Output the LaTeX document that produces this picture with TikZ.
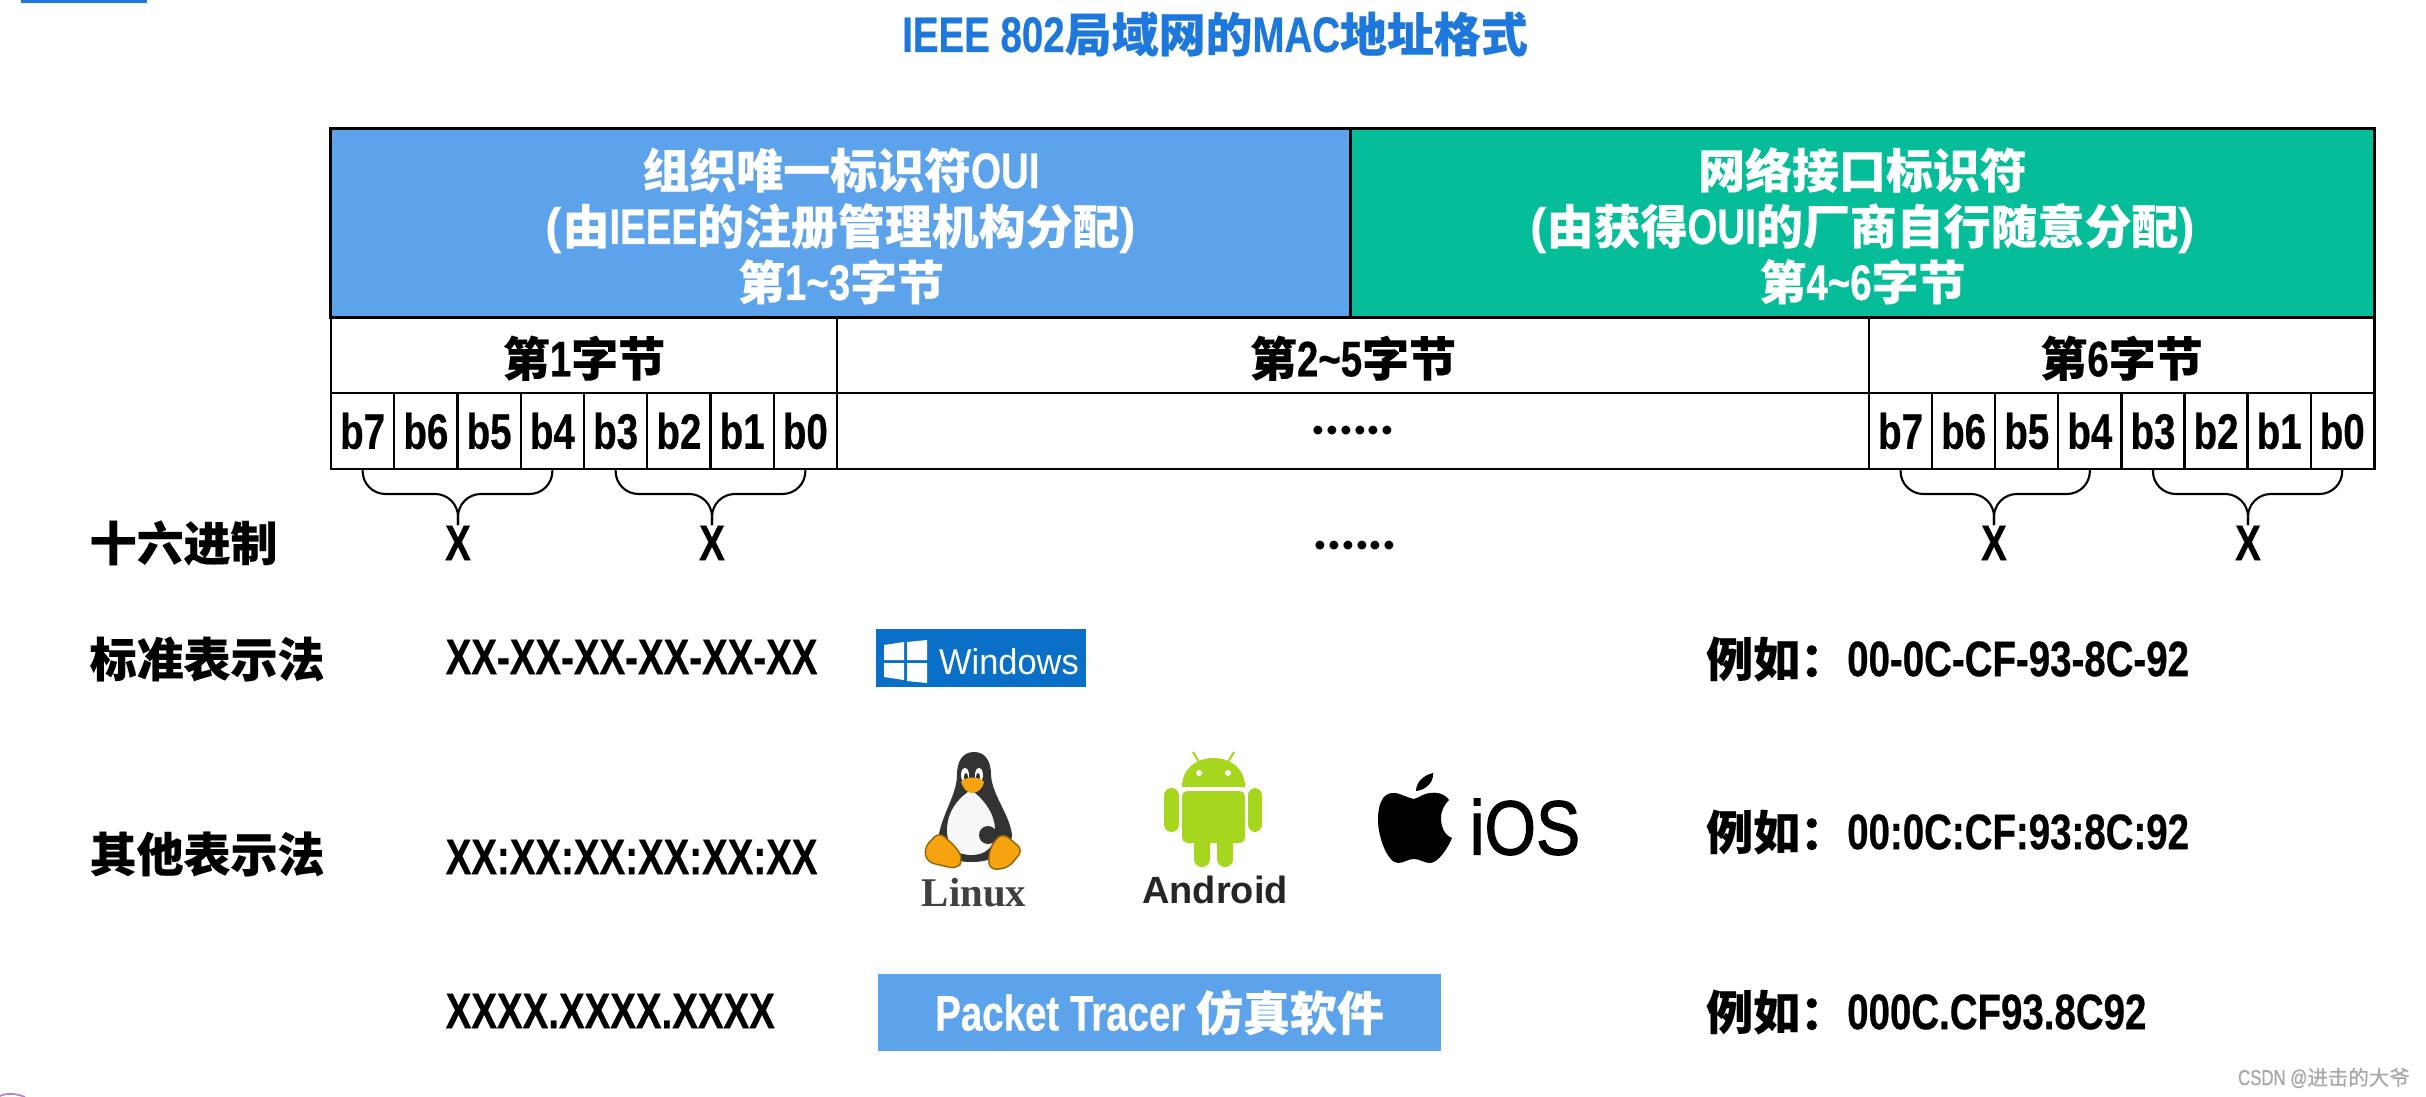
\documentclass[tikz,border=0pt]{standalone}
\usepackage{fontspec}
\setmainfont[FakeStretch=0.77, FakeBold=0.5]{Liberation Sans}
\newfontfamily\cjkfont[Scale=0.94, FakeBold=0.3]{Noto Sans CJK SC}
\newfontfamily\logofont{Liberation Sans}
\newfontfamily\iosfont[FakeBold=1.5]{Liberation Sans}
\newfontfamily\linuxfont{Liberation Serif}
\newfontfamily\dotfont{Lato}
\definecolor{ouiblue}{RGB}{92,163,235}
\definecolor{nicgreen}{RGB}{6,189,154}
\definecolor{titleblue}{RGB}{30,120,220}
\definecolor{winblue}{RGB}{10,111,198}
\definecolor{droidgreen}{RGB}{166,214,30}
\definecolor{tuxorange}{RGB}{245,163,15}
\newcommand{\zh}[1]{{\cjkfont #1}}

\begin{document}
\begin{tikzpicture}[x=0.01cm, y=-0.01cm,
    txt/.style={font=\fontsize{14.2}{15.9}\selectfont\bfseries, inner sep=0pt},
    head/.style={txt, draw, line width=0.85pt, text=white, align=center, minimum height=1.88cm, text height=45pt},
    byterow/.style={txt, draw, line width=0.6pt, minimum height=0.76cm},
    bytehead/.style={byterow, text height=13.4pt},
    bitcell/.style={byterow, minimum width=0.6325cm},
    curly/.style={line width=0.6pt, rounded corners=6.5pt},
    dotrow/.style={inner sep=0pt, anchor=base, font=\dotfont\fontsize{16.5}{20}\selectfont\bfseries},
    rowname/.style={txt, anchor=west},
    addr/.style={txt, anchor=west},
    logotext/.style={inner sep=0pt, font=\logofont\fontsize{10.2}{12}\selectfont}]
    \useasboundingbox (0, 0) rectangle (2426, 1097);

    \fill[titleblue] (21, 0) rectangle (147, 3);
    \node[txt, text=titleblue] (title) at (1215, 34) {IEEE 802\zh{局域网的}MAC\zh{地址格式}};

    \node[head, fill=ouiblue, minimum width=10.2cm] (oui) at (841, 223) {\zh{组织唯一标识符}OUI\\{\logofont (}\zh{由}IEEE\zh{的注册管理机构分配}{\logofont )}\\\zh{第}1\textasciitilde 3\zh{字节}};
    \node[head, fill=nicgreen, minimum width=10.23cm] (nic) at (1862.5, 223) {\zh{网络接口标识符}\\{\logofont (}\zh{由获得}OUI\zh{的厂商自行随意分配}{\logofont )}\\\zh{第}4\textasciitilde 6\zh{字节}};

    \node[bytehead, minimum width=5.06cm] (byte1) at (584, 355) {\zh{第}1\zh{字节}};
    \node[bytehead, minimum width=10.32cm] (byte25) at (1353, 355) {\zh{第}2\textasciitilde 5\zh{字节}};
    \node[bytehead, minimum width=5.05cm] (byte6) at (2121.5, 355) {\zh{第}6\zh{字节}};

    \foreach \b [count=\i from 0] in {7,6,5,4,3,2,1,0} {
        \node[bitcell] (l\b) at ({331+(\i+0.5)*63.25}, 431) {b\b};
        \node[bitcell] (r\b) at ({1869+(\i+0.5)*63.1}, 431) {b\b};
    }
    \node[dotrow] (dots1) at (1353, 435) {......};
    \draw[line width=0.85pt] (331, 393) -- (2374, 393);
    \draw[line width=0.85pt] (331, 469) -- (2374, 469) -- (2374, 129);

    \node[txt] (xa) at (458, 543) {X};
    \node[txt] (xb) at (712, 543) {X};
    \node[dotrow] (dots2) at (1355, 549) {......};
    \node[txt] (xc) at (1994, 543) {X};
    \node[txt] (xd) at (2248, 543) {X};
    \coordinate (ma) at (458, 494);
    \coordinate (mb) at (712, 494);
    \coordinate (mc) at (1994, 494);
    \coordinate (md) at (2248, 494);
    \draw[curly] (l7.south) |- (ma) -- (xa.north);
    \draw[curly] (l4.south) |- (ma) -- (xa.north);
    \draw[curly] (l3.south) |- (mb) -- (xb.north);
    \draw[curly] (l0.south) |- (mb) -- (xb.north);
    \draw[curly] (r7.south) |- (mc) -- (xc.north);
    \draw[curly] (r4.south) |- (mc) -- (xc.north);
    \draw[curly] (r3.south) |- (md) -- (xd.north);
    \draw[curly] (r0.south) |- (md) -- (xd.north);

    \node[rowname] (hex) at (89, 543) {\zh{十六进制}};
    \node[rowname] (std) at (89, 659) {\zh{标准表示法}};
    \node[rowname] (other) at (89, 854) {\zh{其他表示法}};

    \node[addr] (fmta) at (445, 657) {XX-XX-XX-XX-XX-XX};
    \node[addr] (fmtb) at (445, 857) {XX:XX:XX:XX:XX:XX};
    \node[addr] (fmtc) at (445, 1011) {XXXX.XXXX.XXXX};

    \node[addr] (exa) at (1705.5, 659) {\zh{例如：}};
    \node[addr] (exb) at (1705.5, 832) {\zh{例如：}};
    \node[addr] (exc) at (1705.5, 1012) {\zh{例如：}};
    \node[addr] (vala) at (1846.5, 659) {00-0C-CF-93-8C-92};
    \node[addr] (valb) at (1846.5, 832) {00:0C:CF:93:8C:92};
    \node[addr] (valc) at (1846.5, 1012) {000C.CF93.8C92};

    \fill[winblue] (876, 629) rectangle (1086, 687);
    \fill[white] (884, 645) -- (904, 642) -- (904, 660) -- (884, 660) -- cycle;
    \fill[white] (907, 642) -- (927, 640) -- (927, 660) -- (907, 660) -- cycle;
    \fill[white] (884, 663) -- (904, 663) -- (904, 680) -- (884, 677) -- cycle;
    \fill[white] (907, 663) -- (927, 663) -- (927, 683) -- (907, 681) -- cycle;
    \node[logotext, text=white, xscale=0.96] (win) at (1009, 662) {Windows};

    \fill[black!80] (974, 752) .. controls (962, 752) and (957, 762) .. (957, 775)
        .. controls (957, 795) and (941, 815) .. (938, 840)
        .. controls (938, 855) and (950, 862) .. (972, 862)
        .. controls (995, 862) and (1012, 850) .. (1012, 835)
        .. controls (1010, 815) and (992, 795) .. (991, 775)
        .. controls (991, 762) and (986, 752) .. (974, 752) -- cycle;
    \fill[black!3] (971, 790) .. controls (955, 800) and (947, 815) .. (947, 830)
        .. controls (947, 848) and (958, 855) .. (971, 855)
        .. controls (985, 855) and (995, 848) .. (995, 830)
        .. controls (995, 815) and (985, 800) .. (971, 790) -- cycle;
    \fill[white] (965, 775) ellipse (4 and 7) (979, 775) ellipse (4 and 7);
    \fill[black!80] (966, 777) ellipse (2 and 4) (978, 777) ellipse (2 and 4);
    \fill[tuxorange] (961, 782) .. controls (966, 776) and (979, 776) .. (984, 782)
        .. controls (982, 790) and (977, 793) .. (972, 793)
        .. controls (967, 793) and (963, 788) .. (961, 782) -- cycle;
    \fill[black!80] (988, 835) circle (9);
    \filldraw[fill=tuxorange, draw=black!40!tuxorange, line width=0.4pt, rounded corners=2pt]
        (939, 832) -- (924, 848) -- (927, 862) -- (957, 869) -- (963, 860) -- (957, 848) -- cycle;
    \filldraw[fill=tuxorange, draw=black!40!tuxorange, line width=0.4pt, rounded corners=2pt]
        (1003, 833) -- (1023, 850) -- (1008, 868) -- (990, 870) -- (988, 857) -- (993, 842) -- cycle;
    \node[logotext, text=black!75] (linux) at (974, 893) {\linuxfont\fontsize{11.6}{12}\selectfont\bfseries Linux};

    \fill[droidgreen] (1182, 787) .. controls (1182, 768) and (1197, 758) .. (1213.5, 758)
        .. controls (1230, 758) and (1245, 768) .. (1245, 787) -- cycle;
    \fill[droidgreen, rounded corners=1.5pt] (1182, 791) rectangle (1245, 843);
    \fill[droidgreen, rounded corners=2.1pt] (1164, 788) rectangle (1179, 832);
    \fill[droidgreen, rounded corners=2.1pt] (1248, 788) rectangle (1262, 832);
    \fill[droidgreen, rounded corners=2.2pt] (1194, 830) rectangle (1210, 867);
    \fill[droidgreen, rounded corners=2.2pt] (1217, 830) rectangle (1233, 867);
    \draw[droidgreen, line width=0.6pt] (1193, 752) -- (1199, 762);
    \draw[droidgreen, line width=0.6pt] (1234, 752) -- (1228, 762);
    \fill[white] (1199, 773) circle (3) (1228, 773) circle (3);
    \node[logotext, text=black!85] (droid) at (1215, 890) {\fontsize{10.8}{12}\selectfont\bfseries Android};

    \fill[black] (1414, 799) .. controls (1405, 797) and (1398, 792) .. (1392, 793)
        .. controls (1382, 794) and (1378, 805) .. (1378, 820)
        .. controls (1378, 838) and (1388, 863) .. (1398, 863)
        .. controls (1404, 863) and (1408, 859) .. (1414, 859)
        .. controls (1420, 859) and (1424, 863) .. (1430, 863)
        .. controls (1438, 863) and (1448, 848) .. (1452, 838)
        .. controls (1444, 835) and (1441, 826) .. (1441, 818)
        .. controls (1441, 810) and (1445, 804) .. (1449, 800)
        .. controls (1444, 793) and (1436, 792) .. (1430, 793)
        .. controls (1425, 793) and (1420, 797) .. (1414, 799) -- cycle;
    \fill[black] (1416, 791) .. controls (1416, 782) and (1424, 775) .. (1433, 773)
        .. controls (1434, 782) and (1426, 790) .. (1416, 791) -- cycle;
    \node[logotext, xscale=0.86] (ios) at (1525, 827) {\iosfont\fontsize{21.9}{24}\selectfont iOS};

    \node[txt, fill=ouiblue, text=white, minimum width=5.63cm, minimum height=0.77cm] (pt) at (1159.5, 1012.5) {Packet Tracer \zh{仿真软件}};

    \node[inner sep=0pt, text=black!35, font=\fontsize{6.2}{8}\selectfont\mdseries] (mark) at (2324, 1078) {CSDN @\zh{进击的大爷}};
    \draw[violet!50, line width=0.5pt] (0, 1096) .. controls (6, 1093) and (15, 1093) .. (25, 1097);
\end{tikzpicture}
\end{document}
